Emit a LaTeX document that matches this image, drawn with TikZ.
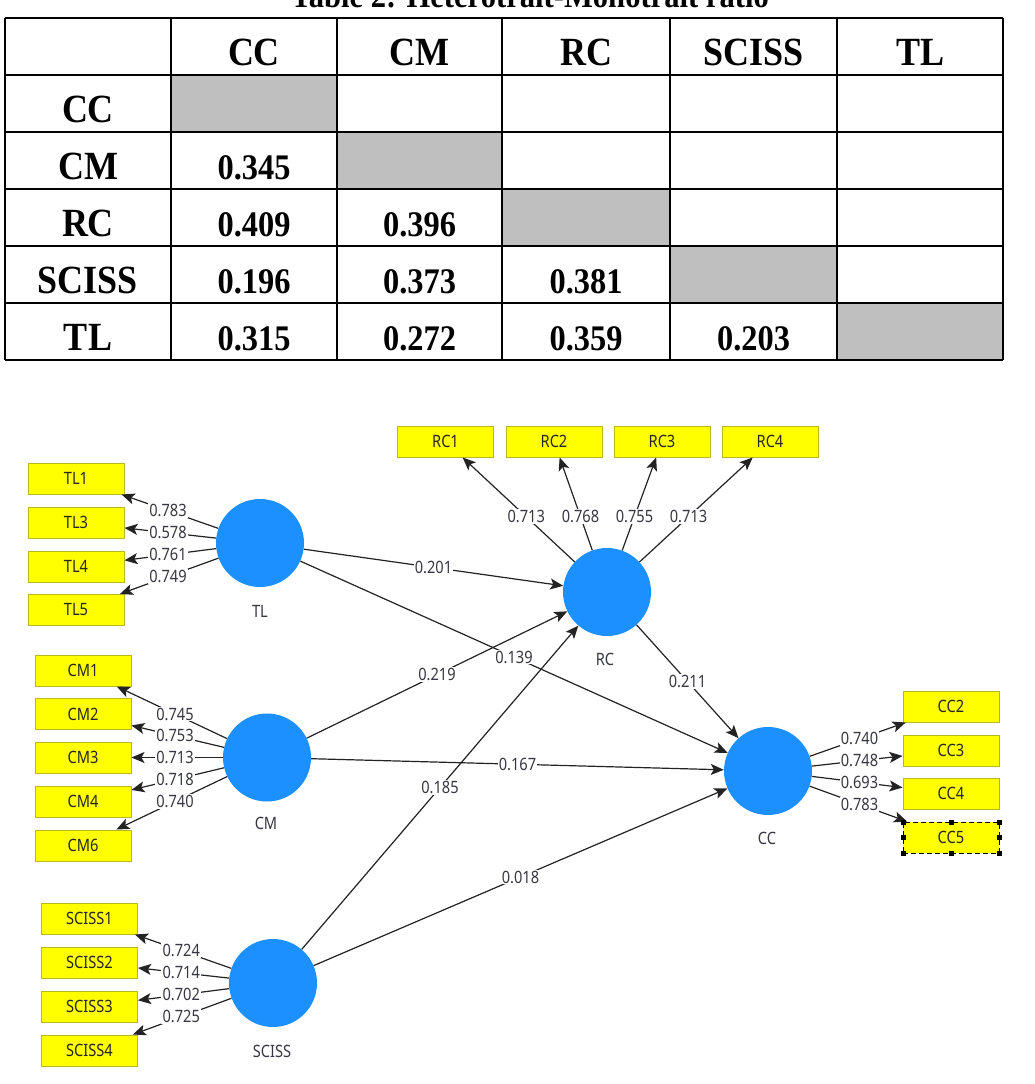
\documentclass[tikz,border=0pt]{standalone}
\usepackage{fontspec}
\usepackage{graphicx}
\setmainfont{Liberation Serif}
\newfontfamily\plsfont{Noto Sans}
\usetikzlibrary{arrows.meta,calc}

\definecolor{cellgray}{RGB}{191,191,191}
\definecolor{latblue}{RGB}{28,144,255}
\definecolor{indyellow}{RGB}{255,255,0}
\definecolor{indborder}{RGB}{185,185,30}
\definecolor{pathgray}{RGB}{35,35,35}
\definecolor{numgray}{RGB}{55,55,65}

\newcommand{\tabtxt}[2]{\fontsize{#1}{#1}\selectfont\bfseries\scalebox{0.9}[1]{#2}}
\newcommand{\pl}[1]{\scalebox{0.86}[1]{#1}}

\tikzset{
  grayfill/.style={fill=cellgray, draw=none},
  gridline/.style={line width=2pt, black},
  latent/.style={circle, fill=latblue, minimum size=88pt, inner sep=0pt},
  latlabel/.style={inner sep=0pt, text=numgray, font=\plsfont\fontsize{17}{17}\selectfont},
  indicator/.style={rectangle, fill=indyellow, draw=indborder, line width=1pt,
    minimum width=96pt, minimum height=31pt, inner sep=0pt, text=black!85,
    font=\plsfont\fontsize{17}{17}\selectfont},
  selected/.style={draw=black, dashed, dash pattern=on 5pt off 3pt},
  handle/.style={rectangle, fill=black, minimum size=5pt, inner sep=0pt},
  link/.style={draw=pathgray, line width=1.2pt, -{Stealth[length=13pt,width=11pt,inset=3pt]}},
  coef/.style={fill=white, inner sep=1.2pt, text=numgray, font=\plsfont\fontsize{17}{17}\selectfont},
  tabtext/.style={anchor=base, inner sep=0pt},
}

\begin{document}
\begin{tikzpicture}[x=1pt, y=-1pt]
\useasboundingbox (0,0) rectangle (1035,1084);
\fill[white] (0,0) rectangle (1035,1084);

% ---------- title (cut off at the top, as in the reference) ----------
\node[tabtext] (title) at (530,7) {\tabtxt{34}{Table 2: Heterotrait-Monotrait ratio}};

% ---------- table ----------
\fill[grayfill] (171,75) rectangle (337,132);
\fill[grayfill] (337,132) rectangle (502,189);
\fill[grayfill] (502,189) rectangle (670,246);
\fill[grayfill] (670,246) rectangle (837,303);
\fill[grayfill] (837,303) rectangle (1003,360);
\foreach \xx in {5,171,337,502,670,837,1003}
  \draw[gridline] (\xx,18) -- (\xx,360);
\foreach \yy in {18,75,132,189,246,303,360}
  \draw[gridline] (5,\yy) -- (1003,\yy);

% header row
\node[tabtext] (hCC) at (254,65) {\tabtxt{40}{CC}};
\node[tabtext] (hCM) at (419.5,65) {\tabtxt{40}{CM}};
\node[tabtext] (hRC) at (586,65) {\tabtxt{40}{RC}};
\node[tabtext] (hSC) at (753.5,65) {\tabtxt{40}{SCISS}};
\node[tabtext] (hTL) at (920,65) {\tabtxt{40}{TL}};
% row labels
\node[tabtext] (rCC) at (88,122) {\tabtxt{40}{CC}};
\node[tabtext] (rCM) at (88,179) {\tabtxt{40}{CM}};
\node[tabtext] (rRC) at (88,236) {\tabtxt{40}{RC}};
\node[tabtext] (rSC) at (88,293) {\tabtxt{40}{SCISS}};
\node[tabtext] (rTL) at (88,350) {\tabtxt{40}{TL}};
% values
\node[tabtext] (v21) at (254,179) {\tabtxt{36}{0.345}};
\node[tabtext] (v31) at (254,236) {\tabtxt{36}{0.409}};
\node[tabtext] (v32) at (419.5,236) {\tabtxt{36}{0.396}};
\node[tabtext] (v41) at (254,293) {\tabtxt{36}{0.196}};
\node[tabtext] (v42) at (419.5,293) {\tabtxt{36}{0.373}};
\node[tabtext] (v43) at (586,293) {\tabtxt{36}{0.381}};
\node[tabtext] (v51) at (254,350) {\tabtxt{36}{0.315}};
\node[tabtext] (v52) at (419.5,350) {\tabtxt{36}{0.272}};
\node[tabtext] (v53) at (586,350) {\tabtxt{36}{0.359}};
\node[tabtext] (v54) at (753.5,350) {\tabtxt{36}{0.203}};

% ---------- path model ----------
% latent variables
\node[latent] (TL) at (260,543) {};
\node[latent] (RC) at (607,592) {};
\node[latent] (CM) at (267,757.5) {};
\node[latent] (SCISS) at (273,983) {};
\node[latent] (CC) at (768,771) {};

\node[latlabel] (TLl) at (260,611) {\pl{TL}};
\node[latlabel] (RCl) at (605,659) {\pl{RC}};
\node[latlabel] (CMl) at (266,823) {\pl{CM}};
\node[latlabel] (SCISSl) at (272,1051) {\pl{SCISS}};
\node[latlabel] (CCl) at (767,838) {\pl{CC}};

% indicators
\node[indicator] (TL1) at (76,478.5) {\pl{TL1}};
\node[indicator] (TL3) at (76,522.5) {\pl{TL3}};
\node[indicator] (TL4) at (76,566.5) {\pl{TL4}};
\node[indicator] (TL5) at (76,610) {\pl{TL5}};

\node[indicator] (RC1) at (445.5,441.5) {\pl{RC1}};
\node[indicator] (RC2) at (554,441.5) {\pl{RC2}};
\node[indicator] (RC3) at (662,441.5) {\pl{RC3}};
\node[indicator] (RC4) at (770,441.5) {\pl{RC4}};

\node[indicator] (CM1) at (83,670.5) {\pl{CM1}};
\node[indicator] (CM2) at (83,714) {\pl{CM2}};
\node[indicator] (CM3) at (83,757.5) {\pl{CM3}};
\node[indicator] (CM4) at (83,801.5) {\pl{CM4}};
\node[indicator] (CM6) at (83,845.5) {\pl{CM6}};

\node[indicator] (SCISS1) at (89.5,918.5) {\pl{SCISS1}};
\node[indicator] (SCISS2) at (89.5,962.5) {\pl{SCISS2}};
\node[indicator] (SCISS3) at (89.5,1006.5) {\pl{SCISS3}};
\node[indicator] (SCISS4) at (89.5,1050.5) {\pl{SCISS4}};

\node[indicator] (CC2) at (951,706.5) {\pl{CC2}};
\node[indicator] (CC3) at (951,750.5) {\pl{CC3}};
\node[indicator] (CC4) at (951,793.5) {\pl{CC4}};
\node[indicator, selected] (CC5) at (951,837.5) {\pl{CC5}};

% outer loadings
\foreach \lv/\ind/\val in {TL/TL1/0.783, TL/TL3/0.578, TL/TL4/0.761, TL/TL5/0.749,
  RC/RC1/0.713, RC/RC2/0.768, RC/RC3/0.755, RC/RC4/0.713,
  CM/CM1/0.745, CM/CM2/0.753, CM/CM3/0.713, CM/CM4/0.718, CM/CM6/0.740,
  SCISS/SCISS1/0.724, SCISS/SCISS2/0.714, SCISS/SCISS3/0.702, SCISS/SCISS4/0.725,
  CC/CC2/0.740, CC/CC3/0.748, CC/CC4/0.693, CC/CC5/0.783}
{
  \draw[link] (\lv) -- (\ind);
  \node[coef] at ($(\lv.center)!0.5!(\ind.center)$) {\pl{\val}};
}

% path coefficients
\foreach \src/\dst/\val in {TL/RC/0.201, TL/CC/0.139, CM/RC/0.219, CM/CC/0.167,
  SCISS/RC/0.185, SCISS/CC/0.018, RC/CC/0.211}
{
  \draw[link] (\src) -- (\dst);
  \node[coef] at ($(\src.center)!0.5!(\dst.center)$) {\pl{\val}};
}

% selection handles on CC5
\foreach \hx/\hy [count=\i] in {903/822, 951/822, 999/822, 903/837.5, 999/837.5, 903/853, 951/853, 999/853}
  \node[handle] (h\i) at (\hx,\hy) {};

\end{tikzpicture}
\end{document}
